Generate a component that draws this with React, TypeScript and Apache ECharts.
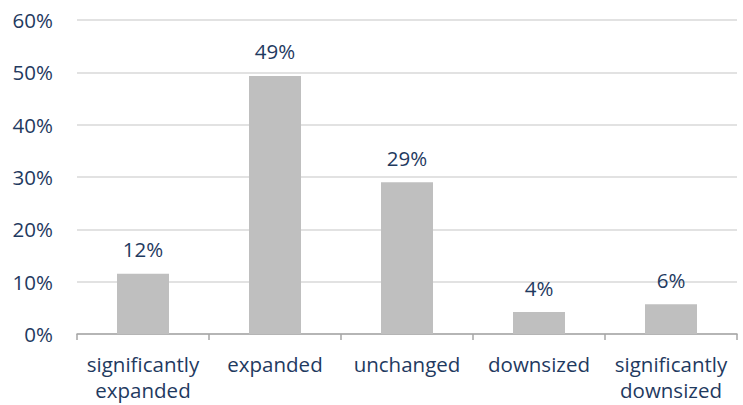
import React, { useEffect, useRef } from "react";
import * as echarts from "echarts";

const categories = ["significantly\nexpanded", "expanded", "unchanged", "downsized", "significantly\ndownsized"];
const values = [11.5, 49.3, 29.0, 4.2, 5.7];
const labels = ["12%", "49%", "29%", "4%", "6%"];
const yTicks = [0, 10, 20, 30, 40, 50, 60];

export default function App() {
  const ref = useRef<HTMLDivElement>(null);
  useEffect(() => {
    document.body.style.margin = "0";
    const chart = echarts.init(ref.current!, null, { renderer: "svg" });
    const textColor = "#1f3a5f";
    const font = "'Open Sans', sans-serif";
    const fs = 20.5;
    chart.setOption({
      animation: false,
      grid: { left: 77, right: 6, top: 20, bottom: 71, outerBoundsMode: "none", containLabel: false },
      xAxis: {
        type: "category",
        data: categories,
        axisLine: { lineStyle: { color: "#a6a6a6", width: 1.5 } },
        axisTick: { show: true, length: 6, lineStyle: { color: "#a6a6a6", width: 1.5 } },
        axisLabel: { color: textColor, fontSize: fs, fontFamily: font, lineHeight: 26, margin: 17, interval: 0 },
      },
      yAxis: {
        type: "value",
        min: yTicks[0],
        max: yTicks[yTicks.length - 1],
        interval: 10,
        axisLine: { show: false },
        axisTick: { show: false },
        splitLine: { lineStyle: { color: "#d9d9d9", width: 1.5 } },
        axisLabel: { color: textColor, fontSize: fs, fontFamily: font, margin: 24, formatter: (v: number) => v + "%" },
      },
      series: [
        {
          type: "bar",
          data: values,
          barWidth: 52,
          itemStyle: { color: "#bfbfbf" },
          label: {
            show: true,
            position: "top",
            distance: 14,
            color: textColor,
            fontSize: fs,
            fontFamily: font,
            formatter: (p: any) => labels[p.dataIndex],
          },
        },
      ],
    });
    return () => chart.dispose();
  }, []);
  return <div ref={ref} style={{ width: 743, height: 405 }} />;
}
